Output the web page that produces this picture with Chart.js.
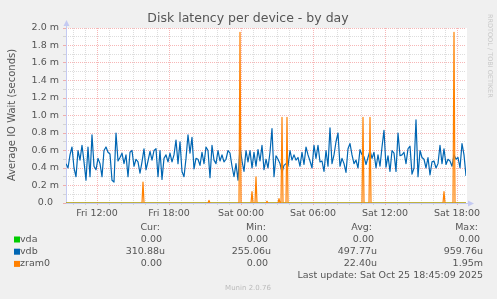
<!DOCTYPE html>
<html lang="en">
<head>
<meta charset="UTF-8" />
<title>Disk latency per device - by day</title>
<script src="https://cdn.jsdelivr.net/npm/chart.js"></script>
<style>
  html, body { margin: 0; padding: 0; background: #f0f0f0; }
  canvas { display: block; }
</style>
</head>
<body>
<canvas id="latency" width="497" height="299"></canvas>
<script>
  // time axis: minutes since Fri 00:00, one vdb sample every 10 min
  const startMin = 565;
  const endMin = 2565;
  const vdbStep = 10;

  // vdb latency in ms
  const vdbValues = [
    0.45, 0.40, 0.55, 0.64, 0.40, 0.30, 0.60, 0.49, 0.66, 0.47,
    0.26, 0.64, 0.30, 0.78, 0.42, 0.38, 0.51, 0.45, 0.30, 0.60,
    0.64, 0.58, 0.56, 0.26, 0.24, 0.80, 0.48, 0.52, 0.57, 0.45,
    0.55, 0.30, 0.58, 0.60, 0.42, 0.50, 0.47, 0.34, 0.47, 0.62,
    0.38, 0.48, 0.59, 0.49, 0.60, 0.62, 0.30, 0.60, 0.27, 0.51,
    0.55, 0.47, 0.57, 0.47, 0.55, 0.72, 0.45, 0.70, 0.36, 0.30,
    0.51, 0.78, 0.57, 0.75, 0.39, 0.51, 0.50, 0.43, 0.58, 0.45,
    0.64, 0.60, 0.29, 0.66, 0.49, 0.45, 0.60, 0.48, 0.55, 0.47,
    0.50, 0.60, 0.57, 0.42, 0.30, 0.45, 0.26, 0.65, 0.48, 0.36,
    0.60, 0.47, 0.60, 0.40, 0.58, 0.42, 0.61, 0.48, 0.66, 0.38,
    0.50, 0.40, 0.58, 0.85, 0.30, 0.54, 0.50, 0.45, 0.35, 0.43,
    0.45, 0.42, 0.60, 0.49, 0.55, 0.49, 0.52, 0.42, 0.58, 0.44,
    0.64, 0.55, 0.48, 0.40, 0.66, 0.51, 0.66, 0.47, 0.48, 0.36,
    0.60, 0.42, 0.86, 0.45, 0.55, 0.70, 0.80, 0.42, 0.51, 0.45,
    0.35, 0.62, 0.68, 0.55, 0.45, 0.49, 0.40, 0.61, 0.55, 0.53,
    0.44, 0.52, 0.60, 0.51, 0.58, 0.40, 0.55, 0.42, 0.64, 0.83,
    0.41, 0.54, 0.36, 0.60, 0.57, 0.36, 0.80, 0.54, 0.55, 0.58,
    0.45, 0.62, 0.65, 0.33, 0.40, 0.95, 0.30, 0.60, 0.52, 0.50,
    0.40, 0.52, 0.32, 0.47, 0.48, 0.40, 0.45, 0.66, 0.45, 0.62,
    0.44, 0.50, 0.48, 0.42, 0.55, 0.50, 0.52, 0.40, 0.68, 0.55,
    0.31
  ];

  // zram0 is zero except for these samples (ms)
  const zramTimes  = [950, 1280, 1435, 1495, 1515, 1570, 1630, 1645, 1670, 2050, 2085, 2455, 2505];
  const zramValues = [0.24, 0.03, 1.95, 0.13, 0.30, 0.02, 0.05, 0.98, 0.98, 0.98, 0.98, 0.13, 1.95];

  // vda stays at zero
  const vdaTimes  = [startMin, endMin];
  const vdaValues = [0, 0];

  const majorTimes  = [720, 1080, 1440, 1800, 2160, 2520];
  const majorLabels = ['Fri 12:00', 'Fri 18:00', 'Sat 00:00', 'Sat 06:00', 'Sat 12:00', 'Sat 18:00'];

  const seriesNames  = ['vda', 'vdb', 'zram0'];
  const seriesColors = ['#00cc00', '#0066b3', '#ff8000'];
  const curText = ['0.00 ', '310.88u', '0.00 '];
  const minText = ['0.00 ', '255.06u', '0.00 '];
  const avgText = ['0.00 ', '497.77u', '22.40u'];
  const maxText = ['0.00 ', '959.76u', '1.95m'];

  const FONT = '"DejaVu Sans", sans-serif';
  const TEXT = '#555';
  const MAJOR = 'rgba(235, 80, 80, 0.42)';
  const MINOR = 'rgba(150, 150, 150, 0.32)';
  const AXIS = '#c4caf2';

  const vdbPoints = vdbValues.map((v, i) => ({ x: startMin + i * vdbStep, y: v }));
  const vdaPoints = vdaTimes.map((t, i) => ({ x: t, y: vdaValues[i] }));
  const zramPoints = [{ x: startMin, y: 0 }];
  zramTimes.forEach((t, i) => {
    zramPoints.push({ x: t - 5, y: 0 }, { x: t, y: zramValues[i] }, { x: t + 5, y: 0 });
  });
  zramPoints.push({ x: endMin, y: 0 });

  const muninDeco = {
    id: 'muninDeco',
    beforeDraw(chart) {
      const { ctx, chartArea: a } = chart;
      ctx.save();
      ctx.fillStyle = '#f0f0f0';
      ctx.fillRect(0, 0, chart.width, chart.height);
      ctx.fillStyle = '#ffffff';
      ctx.fillRect(a.left, a.top, a.right - a.left + 1, a.bottom - a.top);
      ctx.restore();
    },
    beforeDatasetsDraw(chart) {
      const { ctx, chartArea: a } = chart;
      ctx.save();
      ctx.strokeStyle = AXIS;
      ctx.fillStyle = AXIS;
      ctx.lineWidth = 1;
      ctx.beginPath();
      ctx.moveTo(a.left + 0.5, a.bottom);
      ctx.lineTo(a.left + 0.5, a.top - 4);
      ctx.moveTo(a.left, a.bottom + 0.5);
      ctx.lineTo(a.right + 3, a.bottom + 0.5);
      ctx.stroke();
      ctx.beginPath();
      ctx.moveTo(a.left - 2.5, a.top - 2);
      ctx.lineTo(a.left + 3.5, a.top - 2);
      ctx.lineTo(a.left + 0.5, a.top - 8);
      ctx.closePath();
      ctx.fill();
      ctx.beginPath();
      ctx.moveTo(a.right + 2, a.bottom - 2.5);
      ctx.lineTo(a.right + 2, a.bottom + 3.5);
      ctx.lineTo(a.right + 8, a.bottom + 0.5);
      ctx.closePath();
      ctx.fill();
      ctx.restore();
    },
    afterDraw(chart) {
      const { ctx } = chart;
      ctx.save();
      ctx.textBaseline = 'middle';

      ctx.fillStyle = TEXT;
      ctx.font = '12.5px ' + FONT;
      ctx.textAlign = 'center';
      ctx.fillText('Disk latency per device - by day', 248, 19);

      ctx.save();
      ctx.translate(12, 115);
      ctx.rotate(-Math.PI / 2);
      ctx.font = '10px ' + FONT;
      ctx.fillText('Average IO Wait (seconds)', 0, 0);
      ctx.restore();

      ctx.save();
      ctx.translate(490, 14);
      ctx.rotate(Math.PI / 2);
      ctx.font = '6.5px ' + FONT;
      ctx.fillStyle = '#c8c8c8';
      ctx.textAlign = 'left';
      ctx.fillText('RRDTOOL / TOBI OETIKER', 0, 0);
      ctx.restore();

      ctx.font = '9.5px ' + FONT;
      ctx.textAlign = 'right';
      const cols = [165, 271, 377, 483];
      ['Cur:', 'Min:', 'Avg:', 'Max:'].forEach((h, i) => ctx.fillText(h, cols[i] - 5, 228));
      seriesNames.forEach((name, r) => {
        const y = 239.5 + r * 12.2;
        ctx.fillStyle = seriesColors[r];
        ctx.fillRect(14, y - 3, 6, 6);
        ctx.fillStyle = TEXT;
        ctx.textAlign = 'left';
        ctx.fillText(name, 20, y);
        ctx.textAlign = 'right';
        [curText, minText, avgText, maxText].forEach((col, c) => ctx.fillText(col[r], cols[c], y));
      });
      ctx.fillText('Last update: Sat Oct 25 18:45:09 2025', 483, 276);

      ctx.font = '7px ' + FONT;
      ctx.fillStyle = '#bbbbbb';
      ctx.textAlign = 'center';
      ctx.fillText('Munin 2.0.76', 248, 288);
      ctx.restore();
    }
  };

  new Chart(document.getElementById('latency'), {
    type: 'line',
    data: {
      datasets: [
        { label: 'zram0', data: zramPoints, borderColor: seriesColors[2], order: 0 },
        { label: 'vdb', data: vdbPoints, borderColor: seriesColors[1], order: 1 },
        { label: 'vda', data: vdaPoints, borderColor: seriesColors[0], order: 2 }
      ]
    },
    options: {
      responsive: false,
      animation: false,
      devicePixelRatio: 1,
      layout: { padding: { top: 28, right: 31, left: 0, bottom: 0 } },
      elements: {
        line: { borderWidth: 1.2, tension: 0, fill: false, borderJoinStyle: 'round' },
        point: { radius: 0 }
      },
      plugins: { legend: { display: false }, tooltip: { enabled: false }, title: { display: false } },
      scales: {
        x: {
          type: 'linear',
          min: startMin,
          max: endMin,
          afterFit: s => { s.height = 96; },
          afterBuildTicks: s => {
            const ticks = [];
            for (let t = 600; t <= endMin; t += 60) ticks.push({ value: t });
            s.ticks = ticks;
          },
          grid: {
            color: c => majorTimes.includes(c.tick && c.tick.value) ? MAJOR : MINOR,
            tickLength: 2,
            lineWidth: 1
          },
          border: { display: false, dash: [1, 1] },
          ticks: {
            autoSkip: false,
            maxRotation: 0,
            padding: 3,
            color: TEXT,
            font: { family: FONT, size: 9.5 },
            callback: v => {
              const i = majorTimes.indexOf(v);
              return i >= 0 ? majorLabels[i] : '';
            }
          }
        },
        y: {
          min: 0,
          max: 2.0,
          afterFit: s => { s.width = 66; },
          afterBuildTicks: s => {
            const ticks = [];
            for (let k = 0; k <= 20; k++) ticks.push({ value: k / 10 });
            s.ticks = ticks;
          },
          grid: {
            color: c => (Math.round((c.tick ? c.tick.value : 0) * 10) % 2 === 0) ? MAJOR : MINOR,
            tickLength: 3,
            lineWidth: 1
          },
          border: { display: false, dash: [1, 1] },
          ticks: {
            autoSkip: false,
            padding: 4,
            color: TEXT,
            font: { family: FONT, size: 9.5 },
            callback: v => {
              const k = Math.round(v * 10);
              if (k % 2) return '';
              if (k === 0) return '0.0  ';
              return (k / 10).toFixed(1) + ' m';
            }
          }
        }
      }
    },
    plugins: [muninDeco]
  });
</script>
</body>
</html>
